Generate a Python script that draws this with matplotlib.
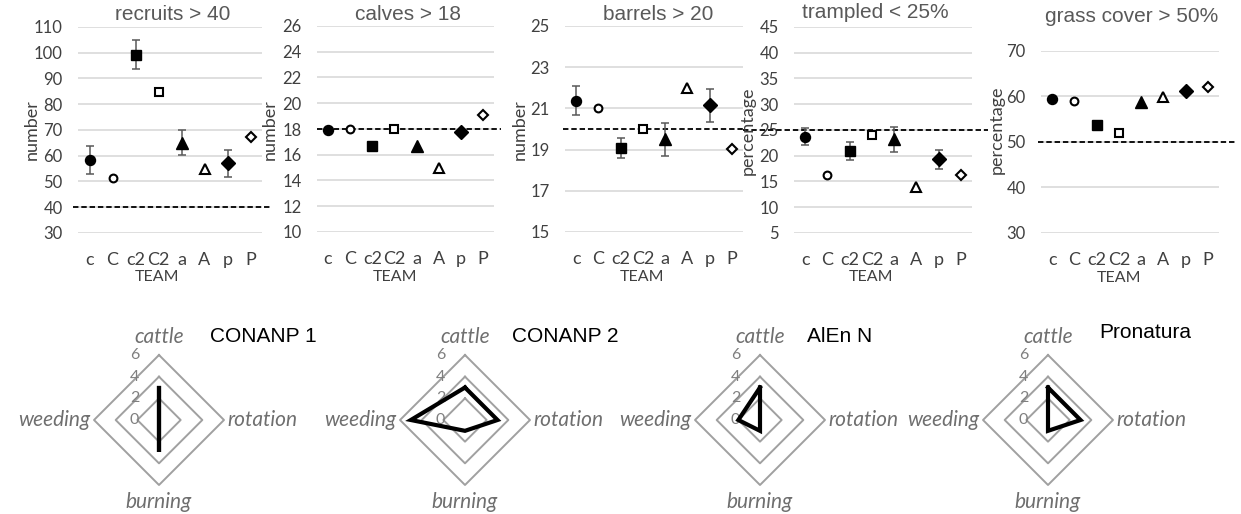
import numpy as np
import matplotlib
matplotlib.use("Agg")
import matplotlib.pyplot as plt

# -------- DATA --------
teams = ["c", "C", "c2", "C2", "a", "A", "p", "P"]
team_markers = ["o", "o", "s", "s", "^", "^", "D", "D"]
team_filled = [True, False, True, False, True, False, True, False]

recruits = [58.4, 51.3, 99.3, 84.8, 65.1, 54.8, 57.1, 67.2]
recruits_err = [5.4, 0, 5.8, 0, 5.0, 0, 5.3, 0]
calves = [17.9, 18.0, 16.7, 18.0, 16.7, 15.0, 17.8, 19.1]
calves_err = [0, 0, 0, 0, 0, 0, 0, 0]
barrels = [21.37, 21.0, 19.07, 20.0, 19.5, 22.0, 21.15, 19.04]
barrels_err = [0.7, 0, 0.5, 0, 0.8, 0, 0.8, 0]
trampled = [23.7, 16.2, 20.9, 24.0, 23.2, 13.9, 19.3, 16.2]
trampled_err = [1.7, 0, 1.7, 0, 2.4, 0, 1.8, 0]
grass = [59.4, 59.1, 53.8, 52.0, 58.9, 59.8, 61.2, 62.0]
grass_err = [0, 0, 0, 0, 0, 0, 0, 0]

radar_axes = ["cattle", "rotation", "burning", "weeding"]
radar_ticks = [0, 2, 4, 6]
radar_names = ["CONANP 1", "CONANP 2", "AlEn N", "Pronatura"]
conanp1 = [3, 0, 3, 0]
conanp2 = [3, 3, 1, 5]
alen_n = [3, 0, 1, 2]
pronatura = [3, 3, 1, 0]

# -------- LAYOUT (pixels) --------
W, H = 1241, 514
GRAY = "#595959"
BODY = "Lato"
HEAD = "Liberation Sans"


def box(x0, y0, x1, y1):
    return [x0 / W, 1 - y1 / H, (x1 - x0) / W, (y1 - y0) / H]


def ftext(x, y, s, **kw):
    fig.text(x / W, 1 - y / H, s, **kw)


fig = plt.figure(figsize=(W / 100, H / 100), dpi=100)

panels = [
    # title, values, err, threshold, ylim, yticks, ylabel, box, dash range, title xy, ylabel xy, team xy
    ("recruits > 40", recruits, recruits_err, 40, (30, 110), range(30, 111, 10), "number",
     (78, 27, 262, 233), (-0.7, 7.9), (173, 14), (32, 130), (157, 277)),
    ("calves > 18", calves, calves_err, 18, (10, 26), range(10, 27, 2), "number",
     (317, 26, 494, 232), (-0.5, 7.8), (408, 14), (270, 130), (395, 277)),
    ("barrels > 20", barrels, barrels_err, 20, (15, 25), range(15, 26, 2), "number",
     (565, 26, 743, 232), (-0.6, 7.6), (658, 14), (520, 130), (642, 277)),
    ("trampled < 25%", trampled, trampled_err, 25, (5, 45), range(5, 46, 5), "percentage",
     (794, 27, 972, 233), (-2.8, 8.2), (875, 13), (748, 131), (871, 277)),
    ("grass cover > 50%", grass, grass_err, 50, (30, 70), range(30, 71, 10), "percentage",
     (1041, 51, 1219, 233), (-0.65, 8.2), (1132, 17), (997, 130), (1119, 278)),
]

x = np.arange(len(teams))

for (title, vals, errs, thr, ylim, yticks, ylab, bx, drange, txy, yxy, exy) in panels:
    ax = fig.add_axes(box(*bx))
    ax.set_xlim(-0.5, len(teams) - 0.5)
    ax.set_ylim(*ylim)
    ax.set_yticks(list(yticks))
    ax.set_xticks(x)
    ax.set_xticklabels(teams)
    for s in ax.spines.values():
        s.set_visible(False)
    ax.tick_params(length=0, labelcolor="#404040")
    ax.tick_params(axis="x", pad=14, labelsize=13)
    ax.tick_params(axis="y", pad=11, labelsize=12)
    for lab in ax.get_xticklabels() + ax.get_yticklabels():
        lab.set_family(BODY)
    ax.grid(axis="y", color="#d9d9d9", lw=1.2)
    ax.set_axisbelow(True)

    # threshold line runs past the plot area
    ax.plot(drange, [thr, thr], color="black", lw=1.3, ls=(0, (3, 1.6)),
            clip_on=False, zorder=2)

    for i in range(len(teams)):
        if errs[i] > 0:
            ax.errorbar(x[i], vals[i], yerr=errs[i], fmt="none", ecolor="#595959",
                        elinewidth=1.1, capsize=3.2, capthick=1.1, zorder=3)
        if team_filled[i]:
            ms = 8.5 if team_markers[i] == "^" else 7.2
            ax.plot(x[i], vals[i], marker=team_markers[i], ms=ms, color="black",
                    ls="none", zorder=4, clip_on=False)
        else:
            ms = 6.5 if team_markers[i] == "^" else 5.6
            ax.plot(x[i], vals[i], marker=team_markers[i], ms=ms, mfc="white",
                    mec="black", mew=1.5, ls="none", zorder=4, clip_on=False)

    ftext(*txy, title, ha="center", va="center", fontsize=15, color=GRAY, family=HEAD)
    ftext(*yxy, ylab, ha="center", va="center", rotation=90, fontsize=13,
          color="#404040", family=BODY)
    ftext(*exy, "TEAM", ha="center", va="center", fontsize=11.5, color="#404040", family=BODY)

# -------- RADARS --------
radar_data = [conanp1, conanp2, alen_n, pronatura]
centers = [159, 465, 760, 1048]
title_xy = [(210, 337), (512, 337), (807, 336), (1099, 333)]
CY = 420
UNIT = 10.83  # px per radar unit
HALF = 100
angles = np.deg2rad([90, 0, -90, 180])

for name, vals, cx, txy in zip(radar_names, radar_data, centers, title_xy):
    ax = fig.add_axes(box(cx - HALF, CY - HALF, cx + HALF, CY + HALF))
    lim = HALF / UNIT
    ax.set_xlim(-lim, lim)
    ax.set_ylim(-lim, lim)
    ax.axis("off")

    for r in radar_ticks[1:]:
        rx = np.append(r * np.cos(angles), r * np.cos(angles[0]))
        ry = np.append(r * np.sin(angles), r * np.sin(angles[0]))
        ax.plot(rx, ry, color="#a0a0a0", lw=1.4, zorder=1)
    for r in radar_ticks:
        ax.text(-2.25, r, str(r), ha="center", va="center", fontsize=11.5,
                color="#7f7f7f", family=BODY, zorder=2)

    v = np.array(vals, dtype=float)
    dx = np.append(v * np.cos(angles), v[0] * np.cos(angles[0]))
    dy = np.append(v * np.sin(angles), v[0] * np.sin(angles[0]))
    ax.plot(dx, dy, color="black", lw=3, solid_joinstyle="miter", zorder=3)

    kw = dict(fontsize=15, color="#6f6f6f", family=BODY, style="italic", va="center")
    ax.text(0, 7.7, radar_axes[0], ha="center", **kw)
    ax.text(6.35, 0, radar_axes[1], ha="left", **kw)
    ax.text(0, -7.6, radar_axes[2], ha="center", **kw)
    ax.text(-6.35, 0, radar_axes[3], ha="right", **kw)

    ftext(*txy, name, ha="left", va="center", fontsize=15, color="black", family=HEAD)

fig.savefig("out.png", dpi=100)
